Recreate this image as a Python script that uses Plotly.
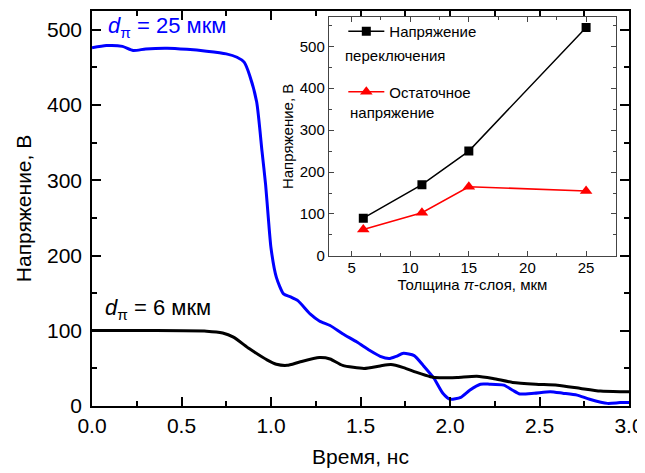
import plotly.graph_objects as go

# Main plot: voltage vs time
t_25 = [0, 0.08, 0.17, 0.23, 0.30, 0.42, 0.53, 0.64, 0.75, 0.81, 0.85, 0.88, 0.92, 0.95,
        0.97, 0.985, 1.0, 1.03, 1.07, 1.11, 1.15, 1.22, 1.27, 1.33, 1.40, 1.48, 1.55, 1.61,
        1.66, 1.70, 1.74, 1.80, 1.85, 1.91, 1.96, 2.0, 2.06, 2.11, 2.17, 2.22, 2.30, 2.35,
        2.39, 2.47, 2.56, 2.63, 2.71, 2.78, 2.88, 2.95, 3.0]
v_25 = [476, 479, 478, 472.5, 474.5, 475.5, 474, 471.5, 468, 463.5, 457, 440, 404, 338,
        294, 250, 210, 171, 149, 145, 140, 122, 113, 107, 96, 85, 74, 66,
        63, 66, 70, 67, 54, 37, 17, 9, 11.5, 21, 29, 29, 27.7, 21,
        16, 17, 19, 17, 14.5, 9, 3.5, 4.5, 4.5]

t_6 = [0, 0.3, 0.64, 0.73, 0.79, 0.88, 0.98, 1.03, 1.09, 1.16, 1.27, 1.33, 1.40, 1.52,
       1.61, 1.67, 1.74, 1.81, 1.89, 1.94, 2.04, 2.15, 2.24, 2.35, 2.48, 2.60, 2.73, 2.84,
       2.95, 3.0]
v_6 = [100.5, 100.3, 99.5, 97, 91.5, 76, 61, 55.5, 54, 58.5, 64.3, 62.5, 54, 50,
       53.3, 55, 51, 45, 39, 37.5, 38, 39.6, 36.6, 31.3, 29, 27.7, 23.3, 19.8,
       19, 19]

# Inset: voltage vs pi-layer thickness
thickness = [6, 11, 15, 25]
v_switch = [90, 170, 250, 545]
v_residual = [63, 103, 165, 155]

FONT = "Liberation Sans, Arial, sans-serif"

fig = go.Figure()
fig.add_trace(go.Scatter(x=t_25, y=v_25, mode="lines", line=dict(color="#0000ff", width=3, shape="spline", smoothing=0.6),
                         showlegend=False, xaxis="x", yaxis="y"))
fig.add_trace(go.Scatter(x=t_6, y=v_6, mode="lines", line=dict(color="black", width=3, shape="spline", smoothing=0.6),
                         showlegend=False, xaxis="x", yaxis="y"))
fig.add_trace(go.Scatter(x=thickness, y=v_switch, mode="lines+markers", name="Напряжение",
                         line=dict(color="black", width=1.5), marker=dict(symbol="square", size=9, color="black"),
                         xaxis="x2", yaxis="y2", legendgroup="a"))
fig.add_trace(go.Scatter(x=thickness, y=v_residual, mode="lines+markers", name="Остаточное",
                         line=dict(color="#ff0000", width=1.5), marker=dict(symbol="triangle-up", size=11, color="#ff0000"),
                         xaxis="x2", yaxis="y2", legendgroup="b"))

main_ax = dict(showline=True, linecolor="black", linewidth=1.5, mirror="ticks", ticks="inside",
               ticklen=9, tickwidth=1.5, tickcolor="black", showgrid=False, zeroline=False,
               tickfont=dict(size=21, color="black", family=FONT))
inset_ax = dict(showline=True, linecolor="#444", linewidth=1, mirror="ticks", ticks="inside",
                ticklen=5, tickwidth=1, tickcolor="#444", showgrid=False, zeroline=False,
                tickfont=dict(size=15, color="black", family=FONT))

# page has an 8px body margin, so the figure is offset by (8, 8)
fig.update_layout(
    width=637, height=465,
    margin=dict(l=84, r=16, t=1, b=67),
    paper_bgcolor="white", plot_bgcolor="white",
    font=dict(family=FONT, color="black"),
    xaxis=dict(**main_ax, domain=[0, 1], range=[0, 3.0], dtick=0.5, tickformat=".1f", anchor="y",
               minor=dict(ticks="inside", ticklen=5, dtick=0.25, tickcolor="black", tickwidth=1.5),
               title=dict(text="Время, нс", font=dict(size=21, family=FONT), standoff=13)),
    yaxis=dict(**main_ax, domain=[0, 1], range=[0, 525], dtick=100, anchor="x", ticklabelstandoff=4,
               minor=dict(ticks="inside", ticklen=5, dtick=50, tickcolor="black", tickwidth=1.5),
               title=dict(text="Напряжение, В", font=dict(size=21, family=FONT), standoff=10)),
    xaxis2=dict(**inset_ax, domain=[0.441, 0.976], range=[3.06, 27.56], dtick=5, anchor="y2",
                ticklabelstandoff=-2,
                minor=dict(ticks="inside", ticklen=3, dtick=2.5, tickcolor="#444"),
                title=dict(text="Толщина <i>π</i>-слоя, мкм", font=dict(size=15, family=FONT), standoff=0)),
    yaxis2=dict(**inset_ax, domain=[0.380, 0.985], range=[0, 570], dtick=100, anchor="x2",
                minor=dict(ticks="inside", ticklen=3, dtick=50, tickcolor="#444"),
                title=dict(text="Напряжение, В", font=dict(size=15, family=FONT), standoff=2)),
    legend=dict(x=0.468, y=0.99, xanchor="left", yanchor="top", bgcolor="rgba(0,0,0,0)",
                font=dict(size=15, family=FONT, color="black"), tracegroupgap=38, itemwidth=36),
    annotations=[
        dict(x=0.08, y=504, xref="x", yref="y", xanchor="left", yanchor="middle", showarrow=False,
             text="<i>d</i><sub>π</sub> = 25 мкм", font=dict(size=22, color="#0000ff", family=FONT)),
        dict(x=0.06, y=129, xref="x", yref="y", xanchor="left", yanchor="middle", showarrow=False,
             text="<i>d</i><sub>π</sub> = 6 мкм", font=dict(size=22, color="black", family=FONT)),
        dict(x=4.3, y=479, xref="x2", yref="y2", xanchor="left", yanchor="middle", showarrow=False,
             text="переключения", font=dict(size=15, color="black", family=FONT)),
        dict(x=4.7, y=342, xref="x2", yref="y2", xanchor="left", yanchor="middle", showarrow=False,
             text="напряжение", font=dict(size=15, color="black", family=FONT)),
    ],
)

fig.write_html("out.html")
